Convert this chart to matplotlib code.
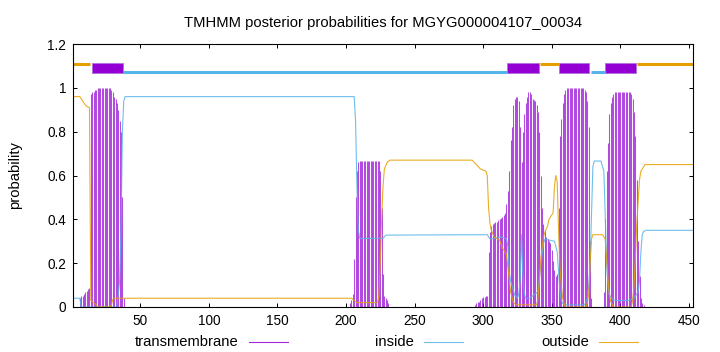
import numpy as np
import matplotlib
matplotlib.use('Agg')
import matplotlib.pyplot as plt
from matplotlib.lines import Line2D

plt.rcParams['font.family'] = ['Liberation Sans', 'DejaVu Sans']

seq_len = 453
title = 'TMHMM posterior probabilities for MGYG000004107_00034'

# predicted topology (start, end) in residues
outside_segs = [(1, 13), (342, 355), (413, 453)]
inside_segs = [(38, 317), (379, 388)]
tm_segs = [(15, 37), (318, 340), (356, 377), (389, 411)]

# transmembrane posterior, one value per residue, for the non-zero stretches
tm_start_a = 6
tm_vals_a = [0.04, 0.05, 0.05, 0.06, 0.07, 0.075, 0.08, 0.085,
             0.97, 0.98, 0.98, 0.99, 0.99,
             1.0, 1.0, 1.0, 1.0, 1.0, 1.0, 1.0, 1.0, 1.0, 1.0,
             0.99, 0.98, 0.96, 0.95, 0.93, 0.90, 0.85, 0.80, 0.5, 0.04]
tm_start_b = 203
tm_vals_b = [0.02, 0.03, 0.06, 0.22, 0.50, 0.62, 0.66,
             0.665, 0.665, 0.665, 0.665, 0.665, 0.665, 0.665, 0.665,
             0.665, 0.665, 0.665, 0.665, 0.665, 0.665, 0.665,
             0.62, 0.45, 0.15, 0.05, 0.04, 0.03, 0.02]
tm_start_c = 294
tm_vals_c = [0.01, 0.02, 0.025, 0.025, 0.03, 0.04, 0.045, 0.045, 0.05, 0.05,
             0.25, 0.34, 0.37, 0.38, 0.385, 0.39, 0.39, 0.395, 0.40, 0.405,
             0.41, 0.42, 0.43, 0.47, 0.53, 0.62, 0.76, 0.82, 0.92, 0.95,
             0.96, 0.96, 0.94, 0.82, 0.66, 0.80, 0.88, 0.93, 0.96, 0.98,
             0.98, 0.97, 0.95, 0.945, 0.94, 0.92, 0.89, 0.80, 0.60, 0.45,
             0.38, 0.35, 0.32, 0.31, 0.30, 0.29, 0.26, 0.21, 0.17, 0.14,
             0.15, 0.45, 0.78, 0.86, 0.93, 0.97, 0.99,
             1.0, 1.0, 1.0, 1.0, 1.0, 1.0, 1.0, 1.0, 1.0, 1.0, 1.0, 1.0, 1.0,
             0.99, 0.98, 0.94, 0.82, 0.30, 0.04,
             0.0, 0.0, 0.0, 0.0, 0.0, 0.0, 0.0, 0.0,
             0.07, 0.40, 0.62, 0.75, 0.88, 0.93, 0.96, 0.97,
             0.98, 0.98, 0.98, 0.98, 0.98, 0.98, 0.98, 0.98, 0.98, 0.98, 0.98, 0.98,
             0.97, 0.95, 0.89, 0.78, 0.58, 0.30, 0.14, 0.04, 0.02, 0.01]

# inside / outside posteriors as (residue, value) points
inside_pos = [1, 6, 7, 33, 34, 35, 36, 37, 38, 39, 206, 207, 208, 209, 210,
              227, 229, 303, 305, 314, 317, 318, 319, 320, 323, 325, 326, 327,
              328, 329, 330, 331, 334, 337, 340, 342, 344, 345, 352, 354, 355,
              356, 357, 358, 360, 374, 376, 377, 378, 379, 380, 381, 386, 387,
              388, 389, 390, 391, 392, 395, 406, 410, 413, 414, 415, 416, 417,
              419, 453]
inside_val = [0.04, 0.04, 0.0, 0.0, 0.06, 0.12, 0.35, 0.80, 0.94, 0.96, 0.96,
              0.85, 0.55, 0.35, 0.313, 0.313, 0.328, 0.33, 0.31, 0.32, 0.31,
              0.28, 0.16, 0.12, 0.055, 0.04, 0.06, 0.12, 0.33, 0.15, 0.06,
              0.04, 0.04, 0.055, 0.07, 0.19, 0.29, 0.31, 0.30, 0.25, 0.16,
              0.07, 0.03, 0.017, 0.01, 0.01, 0.04, 0.10, 0.20, 0.42, 0.64,
              0.666, 0.666, 0.64, 0.62, 0.42, 0.20, 0.10, 0.055, 0.03, 0.03,
              0.04, 0.07, 0.12, 0.25, 0.33, 0.345, 0.35, 0.35]

outside_pos = [1, 6, 7, 9, 11, 13, 14, 16, 18, 19, 28, 29, 30, 31, 204, 206,
               208, 223, 224, 225, 226, 227, 228, 230, 232, 292, 295, 298, 302,
               303, 304, 305, 306, 308, 312, 314, 317, 319, 320, 322, 324, 339,
               340, 341, 342, 344, 345, 347, 348, 351, 352, 353, 354, 355, 356,
               357, 358, 359, 360, 375, 376, 377, 378, 379, 380, 387, 389, 390,
               391, 392, 393, 395, 408, 409, 410, 411, 412, 413, 414, 415, 418,
               453]
outside_val = [0.96, 0.96, 0.95, 0.93, 0.915, 0.91, 0.03, 0.02, 0.01, 0.0, 0.0,
               0.01, 0.035, 0.04, 0.04, 0.03, 0.02, 0.02, 0.05, 0.2, 0.40, 0.55,
               0.63, 0.66, 0.67, 0.67, 0.65, 0.63, 0.62, 0.60, 0.45, 0.38, 0.35,
               0.32, 0.305, 0.27, 0.24, 0.13, 0.07, 0.02, 0.01, 0.01, 0.04, 0.12,
               0.22, 0.32, 0.34, 0.37, 0.40, 0.43, 0.55, 0.60, 0.57, 0.35, 0.18,
               0.10, 0.04, 0.017, 0.0, 0.0, 0.02, 0.06, 0.2, 0.31, 0.33, 0.33,
               0.31, 0.22, 0.13, 0.06, 0.025, 0.0, 0.0, 0.03, 0.1, 0.22, 0.38,
               0.48, 0.58, 0.62, 0.65, 0.65]

purple = '#9400d3'
blue = '#56b4e9'
orange = '#e69f00'

fig = plt.figure(figsize=(7.2, 3.52), dpi=100)
ax = fig.add_axes([73 / 720, 45 / 352, 620 / 720, 263 / 352])

# transmembrane impulses
for start, vals in [(tm_start_a, tm_vals_a), (tm_start_b, tm_vals_b), (tm_start_c, tm_vals_c)]:
    x = np.arange(start, start + len(vals))
    ax.vlines(x, 0, vals, colors=purple, linewidth=0.75, alpha=0.7)

ax.plot(inside_pos, inside_val, color=blue, linewidth=0.8, alpha=0.85)
ax.plot(outside_pos, outside_val, color=orange, linewidth=0.8, alpha=0.85)

# topology bar at the top
for s, e in outside_segs:
    ax.plot([s - 0.5, e + 0.5], [1.11, 1.11], color=orange, linewidth=2.2, solid_capstyle='butt')
for s, e in inside_segs:
    ax.plot([s - 0.5, e + 0.5], [1.07, 1.07], color=blue, linewidth=2.2, solid_capstyle='butt')
ax.broken_barh([(s - 0.5, e - s + 1) for s, e in tm_segs], (1.068, 0.045),
               facecolors=purple, edgecolor='#b070e0', linewidth=0.6)

ax.set_xlim(1, seq_len)
ax.set_ylim(0, 1.2)
ax.set_xticks([50, 100, 150, 200, 250, 300, 350, 400, 450])
ax.set_yticks([0, 0.2, 0.4, 0.6, 0.8, 1.0, 1.2])
ax.set_yticklabels(['0', '0.2', '0.4', '0.6', '0.8', '1', '1.2'])
ax.tick_params(direction='in', length=3, width=0.7, top=True, right=True,
               labelsize=9.8, pad=5)
for sp in ax.spines.values():
    sp.set_linewidth(0.8)

ax.set_title(title, fontsize=10.6, pad=12)
ax.set_ylabel('probability', fontsize=10.6)
ax.yaxis.set_label_coords(-51 / 620, 0.5)

# key below the plot, gnuplot style: text then line sample
key = [('transmembrane', purple, 239), ('inside', blue, 414), ('outside', orange, 589)]
for label, col, xr in key:
    fig.text(xr / 720, 1 - 341.5 / 352, label, ha='right', va='center', fontsize=10.6)
    fig.add_artist(Line2D([(xr + 10) / 720, (xr + 49) / 720],
                          [1 - 341.5 / 352, 1 - 341.5 / 352],
                          color=col, linewidth=0.8, alpha=0.85))

fig.savefig('out.png', dpi=100)
